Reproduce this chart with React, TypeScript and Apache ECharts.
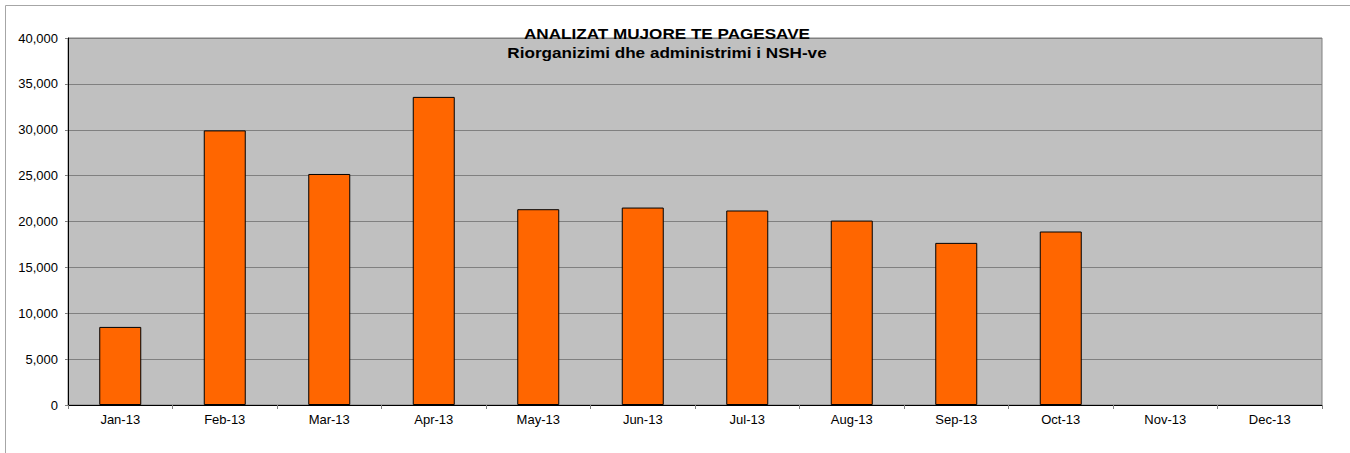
import React, { useEffect, useRef } from "react";
import * as echarts from "echarts";

const months = ["Jan-13", "Feb-13", "Mar-13", "Apr-13", "May-13", "Jun-13", "Jul-13", "Aug-13", "Sep-13", "Oct-13", "Nov-13", "Dec-13"];
const payments = [8510, 29930, 25180, 33580, 21340, 21520, 21200, 20100, 17670, 18910, null, null];
const titleMain = "ANALIZAT MUJORE TE PAGESAVE";
const titleSub = "Riorganizimi dhe administrimi i NSH-ve";
const yMin = 0;
const yMax = 40000;
const yStep = 5000;

const FONT = "'Liberation Sans', Arial, sans-serif";

export default function App() {
  const ref = useRef<HTMLDivElement>(null);
  useEffect(() => {
    if (!ref.current) return;
    const chart = echarts.init(ref.current, null, { renderer: "svg" });
    chart.setOption({
      animation: false,
      backgroundColor: "#ffffff",
      textStyle: { fontFamily: FONT },
      grid: {
        left: 68,
        right: 28,
        top: 38,
        bottom: 48,
        show: true,
        backgroundColor: "#C0C0C0",
        borderColor: "#808080",
        borderWidth: 1,
      },
      xAxis: {
        type: "category",
        data: months,
        boundaryGap: true,
        axisLine: { show: true, lineStyle: { color: "#000000", width: 1 } },
        axisTick: { show: true, length: 4, alignWithLabel: false, lineStyle: { color: "#808080" } },
        axisLabel: { color: "#000000", fontSize: 13, fontFamily: FONT, margin: 8, interval: 0 },
        splitLine: { show: false },
      },
      yAxis: {
        type: "value",
        min: yMin,
        max: yMax,
        interval: yStep,
        axisLine: { show: true, lineStyle: { color: "#000000", width: 1 } },
        axisTick: { show: true, length: 3, lineStyle: { color: "#808080" } },
        axisLabel: {
          color: "#000000",
          fontSize: 13,
          fontFamily: FONT,
          margin: 10,
          formatter: (v: number) => v.toLocaleString("en-US"),
        },
        splitLine: { show: true, lineStyle: { color: "#808080", width: 1 } },
      },
      series: [
        {
          type: "bar",
          data: payments,
          barWidth: 42,
          itemStyle: { color: "#FF6600", borderColor: "#000000", borderWidth: 1 },
        },
      ],
      graphic: [
        { type: "line", shape: { x1: 5.5, y1: 5.5, x2: 1350, y2: 5.5 }, style: { stroke: "#a6a6a6", lineWidth: 1 }, silent: true },
        { type: "line", shape: { x1: 5.5, y1: 5.5, x2: 5.5, y2: 453 }, style: { stroke: "#a6a6a6", lineWidth: 1 }, silent: true },
        {
          type: "text",
          x: 667,
          y: 34,
          scaleX: 1.165,
          z: 100,
          style: {
            text: titleMain,
            fill: "#000000",
            font: `bold 14.7px ${FONT}`,
            align: "center",
            verticalAlign: "middle",
          },
        },
        {
          type: "text",
          x: 667,
          y: 53.3,
          scaleX: 1.165,
          z: 100,
          style: {
            text: titleSub,
            fill: "#000000",
            font: `bold 14.7px ${FONT}`,
            align: "center",
            verticalAlign: "middle",
          },
        },
      ],
    });
    return () => chart.dispose();
  }, []);
  return <div ref={ref} style={{ position: "absolute", left: 0, top: 0, width: 1350, height: 453 }} />;
}
